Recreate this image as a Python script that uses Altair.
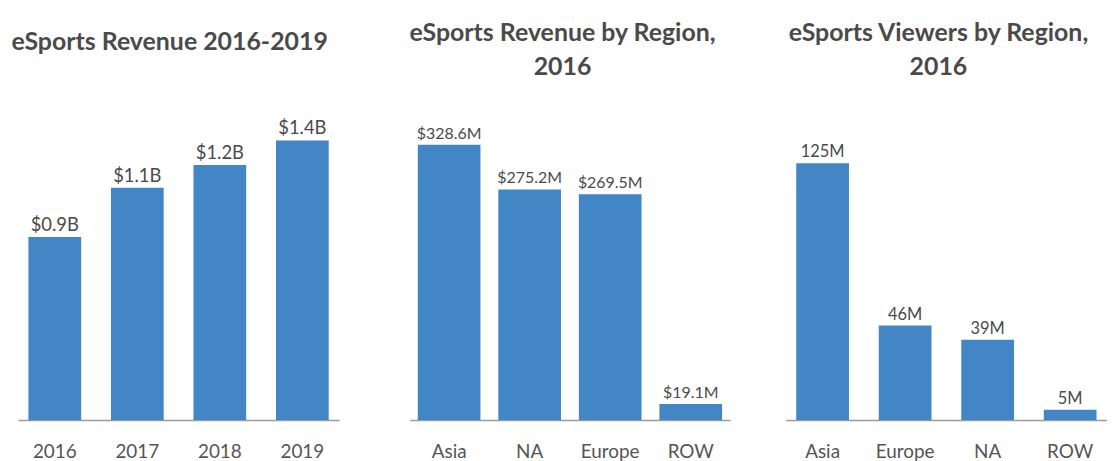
import altair as alt
import pandas as pd

FONT = "Lato"
BAR_COLOR = "#4286c5"
TEXT_COLOR = "#4a4a4a"

# Panel 1: eSports revenue by year (billions USD)
years = ["2016", "2017", "2018", "2019"]
revenue_b = [0.89, 1.13, 1.24, 1.36]
revenue_labels = ["$0.9B", "$1.1B", "$1.2B", "$1.4B"]

# Panel 2: revenue by region, 2016 (millions USD)
rev_regions = ["Asia", "NA", "Europe", "ROW"]
rev_region_m = [328.6, 275.2, 269.5, 19.1]
rev_region_labels = ["$328.6M", "$275.2M", "$269.5M", "$19.1M"]

# Panel 3: viewers by region, 2016 (millions)
view_regions = ["Asia", "Europe", "NA", "ROW"]
viewers_m = [125, 46, 39, 5]
viewer_labels = ["125M", "46M", "39M", "5M"]

PLOT_H = 321


def panel(cats, vals, labels, title, ymax, width, xrange, p_in, p_out, tdx, tdy, lab_size):
    df = pd.DataFrame({"cat": cats, "val": vals, "lab": labels})
    base = alt.Chart(df).encode(
        x=alt.X(
            "cat:N",
            sort=cats,
            scale=alt.Scale(range=xrange, paddingInner=p_in, paddingOuter=p_out),
            axis=alt.Axis(
                title=None,
                labelAngle=0,
                ticks=False,
                domainColor="#9b9b9b",
                domainWidth=1.5,
                labelFont=FONT,
                labelFontSize=19,
                labelColor="#555555",
                labelPadding=23,
            ),
        ),
        y=alt.Y("val:Q", scale=alt.Scale(domain=[0, ymax], nice=False, zero=True), axis=None),
    )
    bars = base.mark_bar(color=BAR_COLOR)
    text = base.mark_text(
        baseline="alphabetic", dy=-6, font=FONT, fontSize=lab_size, color=TEXT_COLOR
    ).encode(text="lab:N")
    return (bars + text).properties(
        width=width,
        height=PLOT_H,
        title=alt.TitleParams(
            title,
            font=FONT,
            fontSize=25,
            fontWeight="bold",
            color=TEXT_COLOR,
            anchor="middle",
            lineHeight=34,
            dx=tdx,
            dy=tdy,
        ),
    )


p1 = panel(years, revenue_b, revenue_labels, "eSports Revenue 2016-2019",
           PLOT_H / 206.7, 323, [0, 323], 0.361, 0.127, -9, -42, 18.5)
p2 = panel(rev_regions, rev_region_m, rev_region_labels,
           ["eSports Revenue by Region,", "2016"],
           PLOT_H * 1.187, 337, [15, 337], 0.222, 0.099, 0, -17, 16)
p3 = panel(view_regions, viewers_m, viewer_labels,
           ["eSports Viewers by Region,", "2016"],
           PLOT_H * 0.484, 323, [0, 323], 0.361, 0.127, -8, -17, 16.5)

chart = (
    alt.hconcat(p1, p2, p3, spacing=56, bounds="flush")
    .properties(padding={"left": 3, "top": 12, "right": 0, "bottom": 0})
    .configure(background="white", view=alt.ViewConfig(stroke=None))
)

chart.save("out.html", embed_options={"renderer": "svg", "actions": False})
